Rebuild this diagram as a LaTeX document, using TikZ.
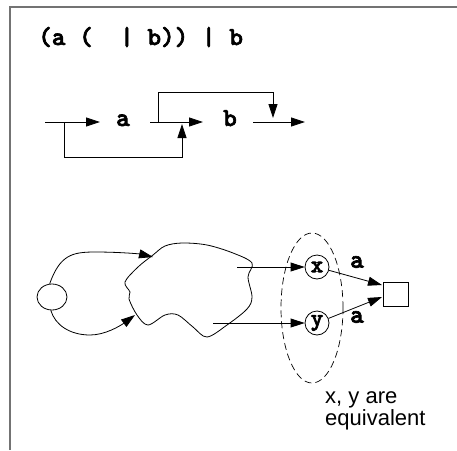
\documentclass[tikz,border=0pt]{standalone}
\usepackage{fontspec}
\setmainfont{Liberation Sans}
\setsansfont{Liberation Sans}
\newfontfamily\codefont{lmmonolt10-bold.otf}[FakeBold=2.5]
\usetikzlibrary{arrows.meta,shapes.geometric}
\begin{document}
\begin{tikzpicture}[x=1pt,y=-1pt,
  frame/.style={draw=black!55, line width=1.4pt},
  wire/.style={draw, line width=0.8pt},
  arr/.style={wire, -{Triangle[length=14pt,width=9pt]}},
  code/.style={font=\fontsize{26}{28}\selectfont\codefont, inner sep=0pt},
  state/.style={circle, draw, line width=0.8pt, minimum size=24pt, inner sep=0pt,
    font=\fontsize{24}{26}\selectfont\codefont},
  note/.style={font=\fontsize{22}{20}\selectfont\sffamily, inner sep=0pt, align=left}
]
\useasboundingbox (0,0) rectangle (457,450);
\draw[frame] (10,450) -- (10,7) -- (457,7);

% regular expression
\node[code, anchor=base west] (re) at (38,45) {(a (\ \ | b)) | b};

% automaton for the expression
\node[code, anchor=base] (na) at (123,126) {a};
\node[code, anchor=base] (nb) at (230,126) {b};
\coordinate (s)    at (45,122);
\coordinate (aIn)  at (100,122);
\coordinate (aOut) at (150,122);
\coordinate (bIn)  at (203,122);
\coordinate (bOut) at (253,122);
\coordinate (fin)  at (305,122);
\coordinate (lo1)  at (64,122);
\coordinate (lo2)  at (64,157);
\coordinate (lo3)  at (182,157);
\coordinate (lo4)  at (182,124);
\coordinate (hi1)  at (158,122);
\coordinate (hi2)  at (158,92);
\coordinate (hi3)  at (273,92);
\coordinate (hi4)  at (273,118);
\draw[arr] (s) -- (aIn);
\draw[arr] (aOut) -- (bIn);
\draw[arr] (bOut) -- (fin);
\draw[arr] (lo1) -- (lo2) -- (lo3) -- (lo4);
\draw[arr] (hi1) -- (hi2) -- (hi3) -- (hi4);

% state graph
\node[ellipse, draw, line width=0.8pt, minimum width=30pt, minimum height=26pt, inner sep=0pt] (init) at (52,297) {};
\coordinate (top1) at (153,257);
\coordinate (bot1) at (135,315);
\draw[arr] (init.100) .. controls (60,255) and (72,252) .. (95,252)
  .. controls (120,252) and (140,254) .. (top1);
\draw[arr] (init.-95) .. controls (55,325) and (70,335) .. (90,335)
  .. controls (105,335) and (120,326) .. (bot1);
\draw[line width=0.8pt] plot[smooth cycle, tension=0.55] coordinates {
  (153,255) (165,246) (182,243) (207,245) (233,253) (252,263) (248,277)
  (252,297) (247,309) (227,325) (207,337) (193,327) (178,315) (165,315)
  (148,325) (137,315) (129,299) (130,292) (125,282) (138,267)};

\node[ellipse, draw, dashed, dash pattern=on 7pt off 4pt, line width=0.7pt,
  minimum width=62pt, minimum height=150pt] (eqv) at (312,308) {};
\node[state] (x) at (317,267) {x};
\node[state] (y) at (317,323) {y};
\node[draw, line width=0.8pt, minimum width=25pt, minimum height=24pt, inner sep=0pt] (sq) at (395.5,294) {};
\coordinate (ox) at (237,267);
\coordinate (oy) at (213,323);
\coordinate (in1) at (382,285);
\coordinate (in2) at (382,297);
\draw[arr] (ox) -- (x);
\draw[arr] (oy) -- (y);
\draw[arr] (x) -- (in1);
\draw[arr] (y) -- (in2);
\node[code] (la1) at (357,262) {a};
\node[code] (la2) at (357,317) {a};

\node[note, anchor=north west] (txt) at (325,391.7) {x, y are\\equivalent};
\end{tikzpicture}
\end{document}
